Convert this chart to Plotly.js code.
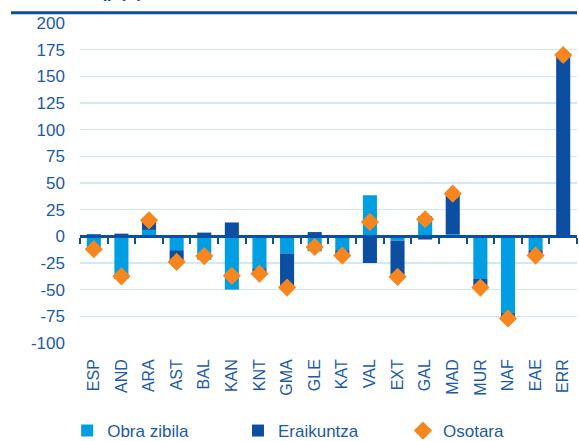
<!DOCTYPE html>
<html>
<head>
<meta charset="utf-8">
<script src="https://cdn.plot.ly/plotly-3.0.1.min.js"></script>
<style>html,body{margin:0;padding:0;background:#fff;overflow:hidden;}#chart{width:579px;height:449px;}</style>
</head>
<body>
<div id="chart"></div>
<script>
const categories = ["ESP","AND","ARA","AST","BAL","KAN","KNT","GMA","GLE","KAT","VAL","EXT","GAL","MAD","MUR","NAF","EAE","ERR"];
const obraZibila = [-14, -40, 6, -13, -22, -50, -30, -16, -14, -13, 38.5, -4, 19, 2, -40, -72, -13, 1];
const eraikuntza = [2, 2.5, 9, -11, 3.5, 13, -5, -32, 4, -5, -25, -34, -3, 38, -8, -5, -5, 169];
const osotara = [-12, -37.5, 15, -24, -18.5, -37, -35, -48, -10, -18, 13.5, -38, 16, 40, -48, -77, -18, 170];
const seriesNames = ["Obra zibila", "Eraikuntza", "Osotara"];
const yTicks = [-100, -75, -50, -25, 0, 25, 50, 75, 100, 125, 150, 175, 200];
const yTickText = ["-100", "-75", "-50", "-25", "0", "25", "50", "75", "100", "125", "150", "175", "200"];

const textColor = "#1c5aa9";
const font = "Liberation Sans, Arial, sans-serif";

const data = [
  {type: "bar", name: seriesNames[0], x: categories, y: obraZibila, marker: {color: "#009fe3"}, legend: "legend"},
  {type: "bar", name: seriesNames[1], x: categories, y: eraikuntza, marker: {color: "#0b4ea2"}, legend: "legend2"},
  {type: "scatter", mode: "markers", name: seriesNames[2], x: categories, y: osotara, xaxis: "x2", legend: "legend3",
   marker: {symbol: "diamond", size: 14, color: "#f7861e"}}
];

function leg(x) {
  return {orientation: "h", xref: "container", yref: "container", x: x, y: 0, xanchor: "left", yanchor: "bottom",
          bgcolor: "rgba(0,0,0,0)", font: {size: 17, color: textColor, family: font}, itemwidth: 30};
}

const layout = {
  width: 579, height: 449,
  margin: {l: 11, r: 2, t: 11, b: 106},
  paper_bgcolor: "#ffffff", plot_bgcolor: "#ffffff",
  barmode: "relative", bargap: 0.49,
  font: {family: font, color: textColor, size: 16},
  showlegend: true,
  legend: leg(0.116),
  legend2: leg(0.411),
  legend3: leg(0.696),
  xaxis: {type: "category", categoryorder: "array", categoryarray: categories, range: [-0.5, 17.5],
          autorange: false, domain: [0.1219, 1],
          showline: false, ticks: "", showgrid: false, zeroline: false,
          tickangle: -90, tickfont: {size: 16, color: textColor, family: font}, ticklabelstandoff: 12},
  xaxis2: {type: "category", matches: "x", overlaying: "x", anchor: "free", position: 1/3 * 0.9639,
           showline: true, linecolor: "#0b4ea2", linewidth: 2.5, ticks: "outside", tickson: "boundaries",
           ticklen: 6, tickwidth: 2, tickcolor: "#0b4ea2", showticklabels: false, showgrid: false, zeroline: false},
  yaxis: {range: [-100, 200], autorange: false, domain: [0, 0.9639], tickvals: yTicks, ticktext: yTickText,
          showgrid: true, gridcolor: "#cfe9f7", gridwidth: 1.5,
          zeroline: false, showline: false, ticks: "", tickfont: {size: 17, color: textColor, family: font},
          ticklabelstandoff: 14},
  shapes: [
    {type: "line", layer: "above", xref: "paper", yref: "paper", x0: 0, x1: 1, y0: 0.995, y1: 0.995,
     line: {color: "#0b4ea2", width: 3}}
  ],
  annotations: [
    {xref: "paper", yref: "paper", x: 0.155, y: 1.021, xanchor: "left", yanchor: "bottom", showarrow: false,
     text: "<b>(p.p.)</b>", font: {size: 17, color: "#0b4ea2", family: font}}
  ]
};

Plotly.newPlot("chart", data, layout, {displayModeBar: false, staticPlot: true});
</script>
</body>
</html>
